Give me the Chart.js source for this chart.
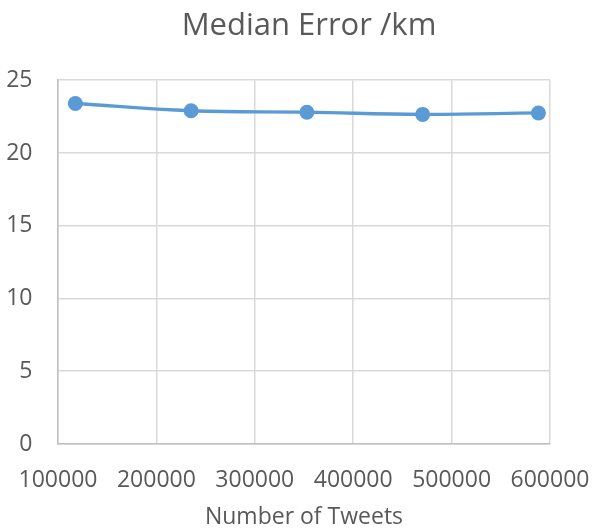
<!DOCTYPE html>
<html>
<head>
<meta charset="utf-8">
<script src="https://cdn.jsdelivr.net/npm/chart.js@4/dist/chart.umd.min.js"></script>
<style>
  html, body { margin: 0; padding: 0; background: #fff; }
  #wrap { width: 592px; height: 531px; }
</style>
</head>
<body>
<div id="wrap"><canvas id="c" width="592" height="531"></canvas></div>
<script>
const chartTitle = 'Median Error /km';
const xAxisTitle = 'Number of Tweets';
const numberOfTweets = [117647, 235294, 352941, 470588, 588235];
const medianErrorKm = [23.4, 22.9, 22.8, 22.65, 22.75];
const xTickValues = [100000, 200000, 300000, 400000, 500000, 600000];
const yTickValues = [0, 5, 10, 15, 20, 25];

const textColor = '#595959';
const gridColor = '#d9d9d9';
const font = "'Open Sans', sans-serif";

const points = numberOfTweets.map((x, i) => ({ x: x, y: medianErrorKm[i] }));

const shiftTitle = {
  id: 'shiftTitle',
  afterLayout(chart) {
    if (chart.titleBlock) { chart.titleBlock.left = 26; }
  }
};

new Chart(document.getElementById('c'), {
  type: 'line',
  data: {
    datasets: [{
      data: points,
      borderColor: '#5b9bd5',
      backgroundColor: '#5b9bd5',
      borderWidth: 3.3,
      pointRadius: 7.5,
      pointHoverRadius: 7.5,
      pointBorderWidth: 0,
      tension: 0.4,
      fill: false
    }]
  },
  plugins: [shiftTitle],
  options: {
    responsive: false,
    animation: false,
    layout: { padding: { left: 0, right: 0, top: 0, bottom: 0 } },
    plugins: {
      legend: { display: false },
      tooltip: { enabled: false },
      title: {
        display: true,
        text: chartTitle,
        color: textColor,
        font: { family: font, size: 31, weight: 'normal' },
        padding: { top: 8, bottom: 35 }
      }
    },
    scales: {
      x: {
        type: 'linear',
        min: xTickValues[0],
        max: xTickValues[xTickValues.length - 1],
        afterBuildTicks: (s) => { s.ticks = xTickValues.map(v => ({ value: v })); },
        afterFit: (s) => { s.paddingLeft = 0; s.paddingRight = 42; s.height = 87; },
        ticks: {
          color: textColor,
          font: { family: font, size: 23 },
          padding: 23,
          maxRotation: 0,
          autoSkip: false,
          callback: (v) => String(v)
        },
        grid: { color: gridColor, lineWidth: 1.5, drawTicks: false },
        border: { color: '#bfbfbf', width: 1.5 },
        title: {
          display: true,
          text: xAxisTitle,
          color: textColor,
          font: { family: font, size: 23 },
          padding: { top: 4, bottom: 0 }
        }
      },
      y: {
        min: yTickValues[0],
        max: yTickValues[yTickValues.length - 1],
        afterBuildTicks: (s) => { s.ticks = yTickValues.map(v => ({ value: v })); },
        afterFit: (s) => { s.width = 58; s.paddingTop = 0; s.paddingBottom = 0; },
        ticks: {
          color: textColor,
          font: { family: font, size: 23 },
          padding: 25.5,
          callback: (v) => String(v)
        },
        grid: { color: gridColor, lineWidth: 1.5, drawTicks: false },
        border: { color: '#bfbfbf', width: 1.5 }
      }
    }
  }
});
</script>
</body>
</html>
